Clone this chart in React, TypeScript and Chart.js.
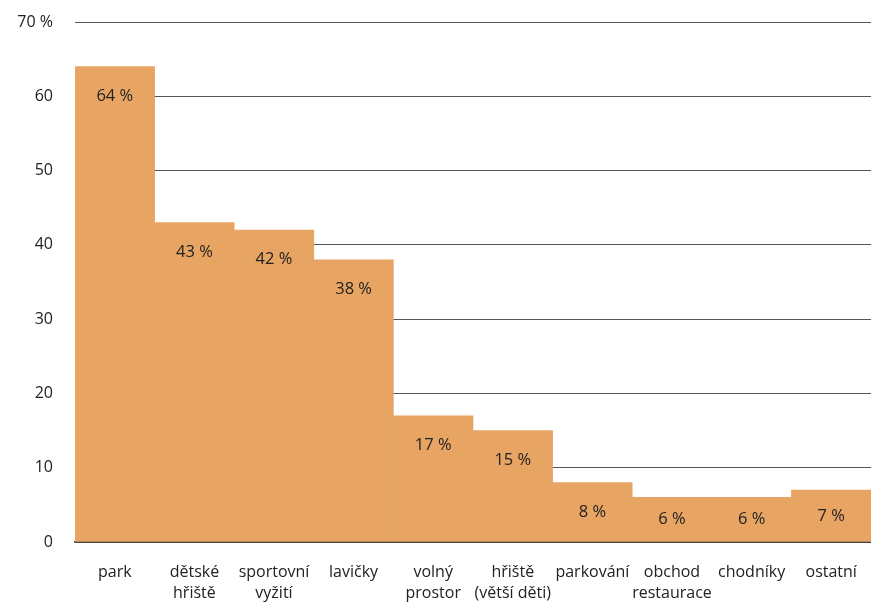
import React, { useEffect, useRef } from "react";
import { Chart, registerables } from "chart.js";

Chart.register(...registerables);

const categories: string[][] = [
  ["park"],
  ["dětské", "hřiště"],
  ["sportovní", "vyžití"],
  ["lavičky"],
  ["volný", "prostor"],
  ["hřiště", "(větší děti)"],
  ["parkování"],
  ["obchod", "restaurace"],
  ["chodníky"],
  ["ostatní"],
];
const values: number[] = [64, 43, 42, 38, 17, 15, 8, 6, 6, 7];
const yTicks: number[] = [0, 10, 20, 30, 40, 50, 60, 70];

const FONT = "'Open Sans', Lato, sans-serif";
const TEXT = "#222222";

const labelPlugin = {
  id: "barLabels",
  afterDatasetsDraw(chart: any) {
    const { ctx } = chart;
    const meta = chart.getDatasetMeta(0);
    const yScale = chart.scales.y;
    ctx.save();
    ctx.font = `16.5px ${FONT}`;
    ctx.fillStyle = TEXT;
    ctx.textAlign = "center";
    ctx.textBaseline = "middle";
    meta.data.forEach((bar: any, i: number) => {
      const v = values[i];
      const off = Math.min(4, v * 0.5);
      const y = yScale.getPixelForValue(v - off);
      ctx.fillText(`${v} %`, bar.x, y);
    });
    ctx.restore();
  },
};

export default function App() {
  const ref = useRef<HTMLCanvasElement | null>(null);
  useEffect(() => {
    if (!ref.current) return;
    const chart = new Chart(ref.current, {
      type: "bar",
      data: {
        labels: categories,
        datasets: [
          {
            data: values,
            backgroundColor: "#E8A463",
            borderWidth: 0,
            barPercentage: 1,
            categoryPercentage: 1,
          },
        ],
      },
      options: {
        animation: false,
        responsive: true,
        maintainAspectRatio: false,
        layout: { padding: { top: 22, right: 0, bottom: 0, left: 0 } },
        plugins: { legend: { display: false }, tooltip: { enabled: false } },
        scales: {
          x: {
            z: 1,
            grid: { display: false },
            border: { display: true, color: "#333333", width: 1.5 },
            ticks: {
              color: TEXT,
              font: { family: FONT, size: 16, lineHeight: 1.3 },
              padding: 12,
              maxRotation: 0,
              autoSkip: false,
            },
            afterFit(scale: any) {
              scale.height = 62;
              scale.paddingRight = 0;
              scale.paddingLeft = 0;
            },
          },
          y: {
            min: 0,
            max: 70,
            afterBuildTicks(scale: any) {
              scale.ticks = yTicks.map((v) => ({ value: v }));
            },
            grid: { color: "#555555", lineWidth: 1, drawTicks: false },
            border: { display: false },
            ticks: {
              color: TEXT,
              font: { family: FONT, size: 16 },
              padding: 22,
              callback: (v: any) => (v === 70 ? "70 %" : String(v)),
            },
            afterFit(scale: any) {
              scale.width = 75;
              scale.paddingTop = 0;
            },
          },
        },
      },
      plugins: [labelPlugin],
    });
    return () => chart.destroy();
  }, []);
  return (
    <div style={{ position: "fixed", left: 0, top: 0, width: 871, height: 604 }}>
      <canvas ref={ref} />
    </div>
  );
}
